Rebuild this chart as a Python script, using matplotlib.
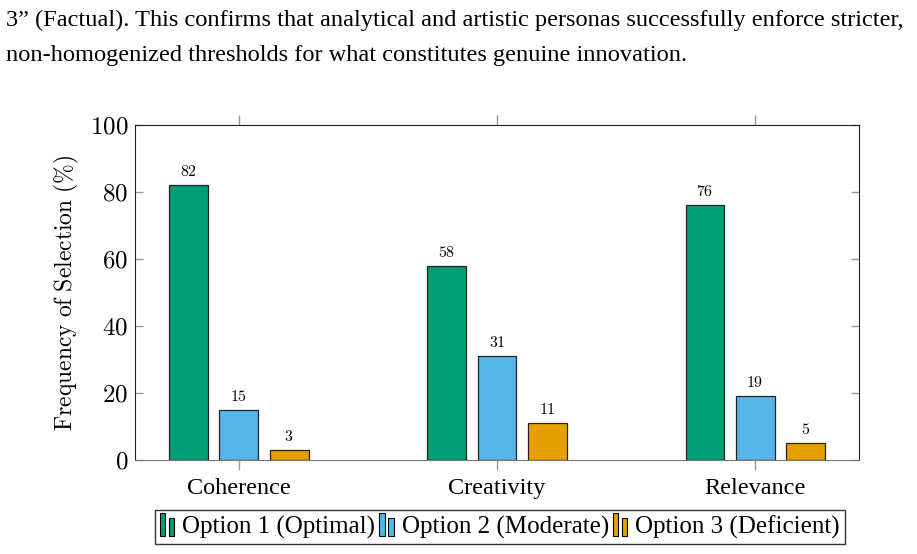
import numpy as np
import matplotlib
matplotlib.use('Agg')
import matplotlib.pyplot as plt
from matplotlib.patches import Rectangle
from matplotlib.legend_handler import HandlerBase

plt.rcParams['mathtext.fontset'] = 'cm'
plt.rcParams['font.family'] = ['Liberation Serif', 'DejaVu Serif']

categories = ['Coherence', 'Creativity', 'Relevance']
series_names = ['Option 1 (Optimal)', 'Option 2 (Moderate)', 'Option 3 (Deficient)']
optimal = [82, 58, 76]
moderate = [15, 31, 19]
deficient = [3, 11, 5]
colors = ['#009E73', '#56B4E9', '#E69F00']
yticks = [0, 20, 40, 60, 80, 100]

para_line1 = '3\u201d (Factual). This confirms that analytical and artistic personas successfully enforce stricter,'
para_line2 = 'non-homogenized thresholds for what constitutes genuine innovation.'


class TwoBarHandler(HandlerBase):
    def create_artists(self, legend, orig_handle, xdescent, ydescent,
                       width, height, fontsize, trans):
        fc = orig_handle.get_facecolor()
        w = width * 0.3
        r1 = Rectangle((-xdescent, -ydescent - height * 0.15), w, height * 1.3, facecolor=fc,
                       edgecolor='black', lw=0.8, transform=trans)
        r2 = Rectangle((-xdescent + w * 1.6, -ydescent - height * 0.15), w, height * 1.0, facecolor=fc,
                       edgecolor='black', lw=0.8, transform=trans)
        return [r1, r2]


fig = plt.figure(figsize=(9.17, 5.54), dpi=100)
fig.text(0.007, 0.963, para_line1, fontsize=17.6, va='center', ha='left')
fig.text(0.007, 0.900, para_line2, fontsize=17.6, va='center', ha='left')

ax = fig.add_axes([0.1472, 0.1697, 0.7896, 0.6047])
x = np.arange(len(categories))
width = 0.151
offset = 0.194
handles = []
for i, (vals, name) in enumerate(zip([optimal, moderate, deficient], series_names)):
    bars = ax.bar(x + (i - 1) * offset, vals, width, color=colors[i], edgecolor='#222222',
                  linewidth=0.9, label=name, zorder=2)
    handles.append(bars[0])
    for xi, v in zip(x + (i - 1) * offset, vals):
        ax.text(xi, v + 1.5, f'${v}$', ha='center', va='bottom', fontsize=11.5)

ax.set_xlim(-0.403, 2.403)
ax.set_ylim(0, 100)
ax.set_xticks(x)
ax.set_xticklabels(categories, fontsize=17.5)
ax.set_yticks(yticks)
ax.set_yticklabels([f'${t}$' for t in yticks], fontsize=18)
ax.tick_params(axis='x', direction='out', length=7, color='#999999', top=True, width=1, pad=6)
ax.tick_params(axis='y', direction='in', length=6, color='#999999', right=True, width=1, pad=5)
ax.set_ylabel(r'$\mathrm{Frequency\ of\ Selection\ (\%)}$', fontsize=17, labelpad=6)
for s in ['left', 'right', 'top']:
    ax.spines[s].set_color('#222222')
ax.spines['bottom'].set_color('#777777')

leg = fig.legend(handles, series_names, loc='center', bbox_to_anchor=(0.545, 0.0487),
                 ncol=3, fontsize=18, frameon=True, fancybox=False, edgecolor='black',
                 handler_map={h: TwoBarHandler() for h in handles},
                 handlelength=0.75, handletextpad=0.15, columnspacing=0.15,
                 borderpad=0.2, borderaxespad=0)
leg.get_frame().set_linewidth(1.0)

fig.savefig('out.png', dpi=100)
